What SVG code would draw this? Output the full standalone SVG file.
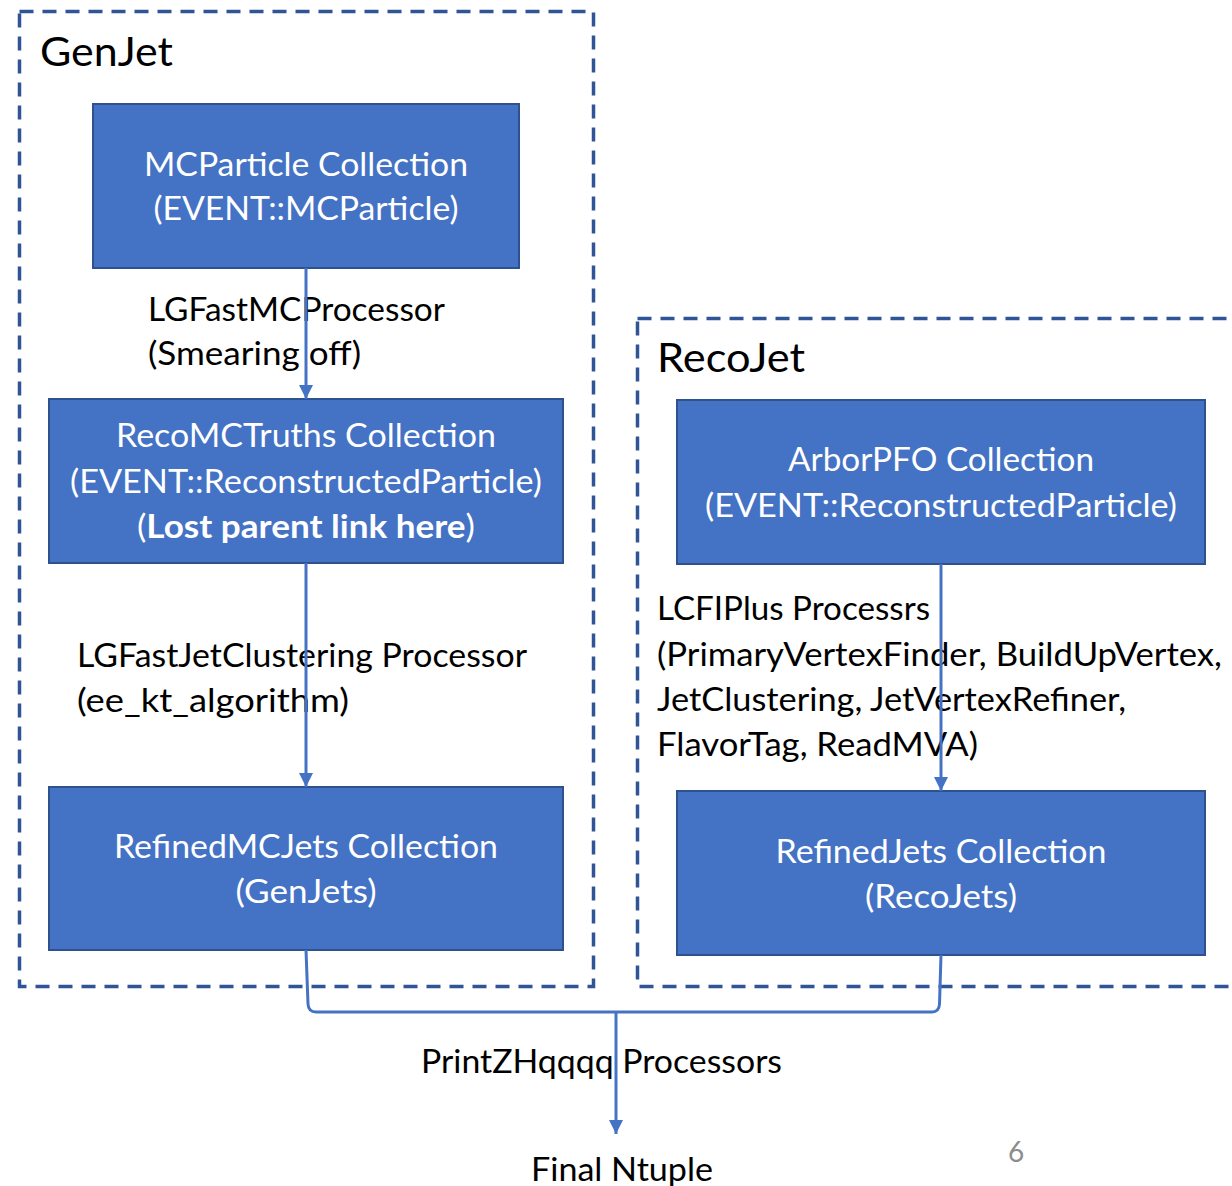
<svg xmlns="http://www.w3.org/2000/svg" width="1232" height="1186" viewBox="0 0 1232 1186">
<style>
.grp{fill:none;stroke:#2F5597;stroke-width:3.5;stroke-dasharray:14 9}
.box{fill:#4472C4;stroke:#2F528F;stroke-width:2}
.bt{font-family:Lato,"Open Sans","Liberation Sans",sans-serif;font-size:33px;fill:#FFFFFF;text-anchor:middle}
.lt{font-family:Lato,"Open Sans","Liberation Sans",sans-serif;font-size:33px;fill:#000000}
.tt{font-family:Lato,"Open Sans","Liberation Sans",sans-serif;font-size:41px;fill:#000000}
.con{fill:none;stroke:#4472C4;stroke-width:3}
</style>
<defs>
<marker id="ah" viewBox="0 0 10 10" refX="10" refY="5" markerWidth="14" markerHeight="14" markerUnits="userSpaceOnUse" orient="auto">
<path d="M0,0 L10,5 L0,10 z" fill="#4472C4"/>
</marker>
</defs>
<rect width="1232" height="1186" fill="#FFFFFF"/>
<g id="genjet-group">
<rect class="grp" x="19.5" y="11.5" width="574" height="975"/>
<text class="tt" x="40" y="66" textLength="133" lengthAdjust="spacingAndGlyphs">GenJet</text>
</g>
<g id="recojet-group">
<rect class="grp" x="637.5" y="318.5" width="640" height="668"/>
<text class="tt" x="657" y="372" textLength="148" lengthAdjust="spacingAndGlyphs">RecoJet</text>
</g>
<g id="labels">
<text class="lt" x="148" y="321" textLength="297" lengthAdjust="spacingAndGlyphs">LGFastMCProcessor</text>
<text class="lt" x="148" y="365" textLength="213" lengthAdjust="spacingAndGlyphs">(Smearing off)</text>
<text class="lt" x="77" y="667" textLength="450" lengthAdjust="spacingAndGlyphs">LGFastJetClustering Processor</text>
<text class="lt" x="77" y="712" textLength="272" lengthAdjust="spacingAndGlyphs">(ee_kt_algorithm)</text>
<text class="lt" x="657" y="620" textLength="273" lengthAdjust="spacingAndGlyphs">LCFIPlus Processrs</text>
<text class="lt" x="657" y="666" textLength="565" lengthAdjust="spacingAndGlyphs">(PrimaryVertexFinder, BuildUpVertex,</text>
<text class="lt" x="657" y="711" textLength="469" lengthAdjust="spacingAndGlyphs">JetClustering, JetVertexRefiner,</text>
<text class="lt" x="657" y="756" textLength="321" lengthAdjust="spacingAndGlyphs">FlavorTag, ReadMVA)</text>
<text class="lt" x="421" y="1073" textLength="361" lengthAdjust="spacingAndGlyphs">PrintZHqqqq Processors</text>
</g>
<g id="mcparticle">
<rect class="box" x="93" y="104" width="426" height="164"/>
<text class="bt" x="306" y="176" textLength="324" lengthAdjust="spacingAndGlyphs">MCParticle Collection</text>
<text class="bt" x="306" y="220" textLength="305" lengthAdjust="spacingAndGlyphs">(EVENT::MCParticle)</text>
</g>
<g id="recomctruths">
<rect class="box" x="49" y="399" width="514" height="164"/>
<text class="bt" x="306" y="447" textLength="380" lengthAdjust="spacingAndGlyphs">RecoMCTruths Collection</text>
<text class="bt" x="306" y="493" textLength="472" lengthAdjust="spacingAndGlyphs">(EVENT::ReconstructedParticle)</text>
<text class="bt" x="306" y="538" textLength="338" lengthAdjust="spacingAndGlyphs">(<tspan font-weight="bold">Lost parent link here</tspan>)</text>
</g>
<g id="refinedmcjets">
<rect class="box" x="49" y="787" width="514" height="163"/>
<text class="bt" x="306" y="858" textLength="384" lengthAdjust="spacingAndGlyphs">RefinedMCJets Collection</text>
<text class="bt" x="306" y="903" textLength="141" lengthAdjust="spacingAndGlyphs">(GenJets)</text>
</g>
<g id="arborpfo">
<rect class="box" x="677" y="400" width="528" height="164"/>
<text class="bt" x="941" y="471" textLength="306" lengthAdjust="spacingAndGlyphs">ArborPFO Collection</text>
<text class="bt" x="941" y="517" textLength="472" lengthAdjust="spacingAndGlyphs">(EVENT::ReconstructedParticle)</text>
</g>
<g id="refinedjets">
<rect class="box" x="677" y="791" width="528" height="164"/>
<text class="bt" x="941" y="863" textLength="331" lengthAdjust="spacingAndGlyphs">RefinedJets Collection</text>
<text class="bt" x="941" y="908" textLength="152" lengthAdjust="spacingAndGlyphs">(RecoJets)</text>
</g>
<g id="final-ntuple">
<text class="lt" x="622" y="1181" text-anchor="middle" textLength="182" lengthAdjust="spacingAndGlyphs">Final Ntuple</text>
</g>
<g id="connectors">
<line class="con" x1="306" y1="268" x2="306" y2="399" marker-end="url(#ah)"/>
<line class="con" x1="306" y1="563" x2="306" y2="787" marker-end="url(#ah)"/>
<line class="con" x1="941" y1="564" x2="941" y2="791" marker-end="url(#ah)"/>
<path class="con" d="M306,950 L308,1004 Q308.5,1012 316,1012 L932,1012 Q939,1012 939.5,1004 L941,955"/>
<line class="con" x1="616" y1="1012" x2="616" y2="1134" marker-end="url(#ah)"/>
</g>
<text x="1016" y="1162" text-anchor="middle" font-family="Lato,'Open Sans','Liberation Sans',sans-serif" font-size="28" fill="#8C8C8C">6</text>
</svg>
